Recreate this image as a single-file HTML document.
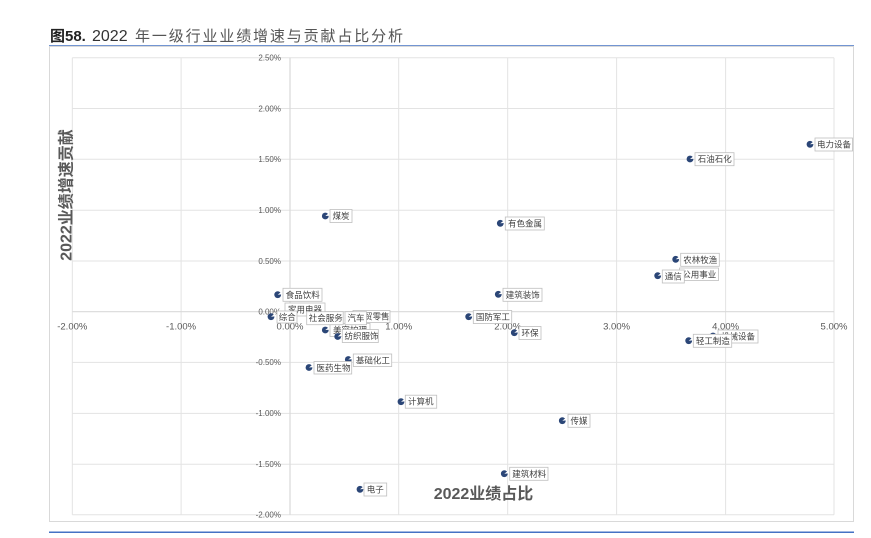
<!DOCTYPE html>
<html><head><meta charset="utf-8">
<style>
html,body{margin:0;padding:0;background:#fff;}
svg{display:block;}
text{font-family:"Liberation Sans","Noto Sans CJK SC",sans-serif;}
</style></head>
<body>
<svg width="871" height="538" viewBox="0 0 871 538" xmlns="http://www.w3.org/2000/svg">
<rect width="871" height="538" fill="#fff"/>
<!-- title -->
<text x="50" y="41" font-size="15" font-weight="bold" fill="#222">图58.</text>
<text x="92" y="41" font-size="16" fill="#333">2022</text>
<text x="135" y="41" font-size="15" fill="#555" textLength="268" lengthAdjust="spacing">年一级行业业绩增速与贡献占比分析</text>
<line x1="49" y1="46" x2="854" y2="46" stroke="#4472c4" stroke-width="1.5"/>
<line x1="49" y1="532.3" x2="854" y2="532.3" stroke="#4472c4" stroke-width="1.5"/>
<!-- frame -->
<rect x="49.5" y="46.5" width="804" height="475" fill="none" stroke="#d9d9d9" stroke-width="1"/>
<!-- gridlines -->
<g stroke="#e3e3e3" stroke-width="1">
<line x1="72.3" y1="57.7" x2="72.3" y2="514.7"/>
<line x1="181.1" y1="57.7" x2="181.1" y2="514.7"/>
<line x1="398.7" y1="57.7" x2="398.7" y2="514.7"/>
<line x1="507.7" y1="57.7" x2="507.7" y2="514.7"/>
<line x1="616.6" y1="57.7" x2="616.6" y2="514.7"/>
<line x1="725.6" y1="57.7" x2="725.6" y2="514.7"/>
<line x1="834" y1="57.7" x2="834" y2="514.7"/>
<line x1="72.3" y1="57.7" x2="834" y2="57.7"/>
<line x1="72.3" y1="108.5" x2="834" y2="108.5"/>
<line x1="72.3" y1="159.3" x2="834" y2="159.3"/>
<line x1="72.3" y1="210.2" x2="834" y2="210.2"/>
<line x1="72.3" y1="261" x2="834" y2="261"/>
<line x1="72.3" y1="362.4" x2="834" y2="362.4"/>
<line x1="72.3" y1="413.4" x2="834" y2="413.4"/>
<line x1="72.3" y1="464.3" x2="834" y2="464.3"/>
<line x1="72.3" y1="514.7" x2="834" y2="514.7"/>
</g>
<g stroke="#d9d9d9" stroke-width="1.2">
<line x1="290" y1="57.7" x2="290" y2="514.7"/>
<line x1="72.3" y1="311.7" x2="834" y2="311.7"/>
</g>
<!-- y tick labels -->
<g font-size="8" fill="#595959" text-anchor="end">
<text x="281" y="60.5">2.50%</text>
<text x="281" y="111.3">2.00%</text>
<text x="281" y="162.1">1.50%</text>
<text x="281" y="213">1.00%</text>
<text x="281" y="263.8">0.50%</text>
<text x="281" y="314.5">0.00%</text>
<text x="281" y="365.2">-0.50%</text>
<text x="281" y="416.2">-1.00%</text>
<text x="281" y="467.1">-1.50%</text>
<text x="281" y="517.5">-2.00%</text>
</g>
<!-- x tick labels -->
<g font-size="9.5" fill="#595959" text-anchor="middle">
<text x="72.3" y="329.5">-2.00%</text>
<text x="181.1" y="329.5">-1.00%</text>
<text x="290" y="329.5">0.00%</text>
<text x="398.7" y="329.5">1.00%</text>
<text x="507.7" y="329.5">2.00%</text>
<text x="616.6" y="329.5">3.00%</text>
<text x="725.6" y="329.5">4.00%</text>
<text x="834" y="329.5">5.00%</text>
</g>
<!-- axis titles -->
<text x="483.5" y="499" font-size="16" font-weight="bold" fill="#595959" text-anchor="middle">2022业绩占比</text>
<text transform="translate(71.5,195) rotate(-90)" font-size="16" font-weight="bold" fill="#595959" text-anchor="middle">2022业绩增速贡献</text>

<defs>
<g id="m">
<circle cx="0" cy="0" r="3.4" fill="#2b4677"/>
<polygon points="0,0 4,-3.2 4,-0.3" fill="#fff"/>
</g>
</defs>

<g font-size="8.5" fill="#404040">
<!-- 家用电器 -->
<use href="#m" x="286" y="317"/>
<rect x="285" y="303" width="40" height="13" fill="#fff" stroke="#bfbfbf" stroke-width="0.8"/>
<text x="288" y="312.5">家用电器</text>
<!-- 商贸零售 -->
<rect x="353" y="310.5" width="37" height="12" fill="#fff" stroke="#bfbfbf" stroke-width="0.8"/>
<text x="355.5" y="319.5">商贸零售</text>
<!-- 美容护理 -->
<use href="#m" x="325.3" y="330"/>
<rect x="330" y="323.5" width="40" height="13" fill="#fff" stroke="#bfbfbf" stroke-width="0.8"/>
<text x="333" y="333">美容护理</text>
<!-- 纺织服饰 -->
<use href="#m" x="337.7" y="336.5"/>
<rect x="342.3" y="329.5" width="36" height="13" fill="#fff" stroke="#bfbfbf" stroke-width="0.8"/>
<text x="344.5" y="339">纺织服饰</text>
<!-- 社会服务 -->
<rect x="306.7" y="311.7" width="36.5" height="13" fill="#fff" stroke="#bfbfbf" stroke-width="0.8"/>
<text x="308.8" y="321.2">社会服务</text>
<!-- 汽车 -->
<rect x="345" y="311.7" width="21.5" height="13" fill="#fff" stroke="#bfbfbf" stroke-width="0.8"/>
<text x="347.5" y="321.2">汽车</text>
<!-- 综合 -->
<use href="#m" x="271" y="316.7"/>
<rect x="277" y="311" width="20" height="12" fill="#fff" stroke="#bfbfbf" stroke-width="0.8"/>
<text x="278.8" y="320.2">综合</text>
<!-- 食品饮料 -->
<use href="#m" x="277.7" y="294.7"/>
<rect x="283" y="288.3" width="39" height="13" fill="#fff" stroke="#bfbfbf" stroke-width="0.8"/>
<text x="285.7" y="297.8">食品饮料</text>
<!-- 煤炭 -->
<use href="#m" x="325.3" y="216"/>
<rect x="330" y="209.5" width="22" height="13" fill="#fff" stroke="#bfbfbf" stroke-width="0.8"/>
<text x="332.5" y="219">煤炭</text>
<!-- 有色金属 -->
<use href="#m" x="500.3" y="223.3"/>
<rect x="505.3" y="217" width="39" height="13" fill="#fff" stroke="#bfbfbf" stroke-width="0.8"/>
<text x="508" y="226.5">有色金属</text>
<!-- 建筑装饰 -->
<use href="#m" x="498.3" y="294.3"/>
<rect x="503" y="288.3" width="39" height="13" fill="#fff" stroke="#bfbfbf" stroke-width="0.8"/>
<text x="505.7" y="297.8">建筑装饰</text>
<!-- 国防军工 -->
<use href="#m" x="468.7" y="316.7"/>
<rect x="473.3" y="310.5" width="38.4" height="13" fill="#fff" stroke="#bfbfbf" stroke-width="0.8"/>
<text x="475.9" y="320">国防军工</text>
<!-- 环保 -->
<use href="#m" x="514.3" y="332.7"/>
<rect x="519" y="326.5" width="22" height="13" fill="#fff" stroke="#bfbfbf" stroke-width="0.8"/>
<text x="521.5" y="336">环保</text>
<!-- 石油石化 -->
<use href="#m" x="690" y="159"/>
<rect x="695" y="152.7" width="39" height="13" fill="#fff" stroke="#bfbfbf" stroke-width="0.8"/>
<text x="697.7" y="162.2">石油石化</text>
<!-- 电力设备 -->
<use href="#m" x="810" y="144.3"/>
<rect x="815" y="138" width="37.5" height="13" fill="#fff" stroke="#bfbfbf" stroke-width="0.8"/>
<text x="817" y="147.5">电力设备</text>
<!-- 农林牧渔 -->
<use href="#m" x="675.7" y="259.3"/>
<rect x="680.7" y="253.3" width="38.6" height="13" fill="#fff" stroke="#bfbfbf" stroke-width="0.8"/>
<text x="683.3" y="262.8">农林牧渔</text>
<!-- 公用事业 -->
<use href="#m" x="675" y="274"/>
<rect x="679.5" y="268" width="39" height="12.5" fill="#fff" stroke="#bfbfbf" stroke-width="0.8"/>
<text x="682.2" y="277.3">公用事业</text>
<!-- 通信 -->
<use href="#m" x="657.7" y="275.7"/>
<rect x="662.3" y="270" width="22" height="13" fill="#fff" stroke="#bfbfbf" stroke-width="0.8"/>
<text x="664.8" y="279.5">通信</text>
<!-- 机械设备 -->
<use href="#m" x="713" y="336"/>
<rect x="718" y="330" width="40" height="13" fill="#fff" stroke="#bfbfbf" stroke-width="0.8"/>
<text x="721" y="339.5">机械设备</text>
<!-- 轻工制造 -->
<use href="#m" x="688.7" y="340.7"/>
<rect x="693.3" y="334.3" width="38.4" height="13" fill="#fff" stroke="#bfbfbf" stroke-width="0.8"/>
<text x="695.9" y="343.8">轻工制造</text>
<!-- 基础化工 -->
<use href="#m" x="348.3" y="359.5"/>
<rect x="353.3" y="354" width="38.4" height="12.5" fill="#fff" stroke="#bfbfbf" stroke-width="0.8"/>
<text x="355.9" y="363.3">基础化工</text>
<!-- 医药生物 -->
<use href="#m" x="309" y="367.5"/>
<rect x="314" y="361.5" width="37.7" height="12.5" fill="#fff" stroke="#bfbfbf" stroke-width="0.8"/>
<text x="316.5" y="370.8">医药生物</text>
<!-- 计算机 -->
<use href="#m" x="401" y="401.7"/>
<rect x="405.3" y="395.2" width="31.4" height="13" fill="#fff" stroke="#bfbfbf" stroke-width="0.8"/>
<text x="408" y="404.7">计算机</text>
<!-- 传媒 -->
<use href="#m" x="562.3" y="420.7"/>
<rect x="568" y="414.3" width="22" height="13" fill="#fff" stroke="#bfbfbf" stroke-width="0.8"/>
<text x="570.5" y="423.8">传媒</text>
<!-- 建筑材料 -->
<use href="#m" x="504.3" y="473.7"/>
<rect x="509.7" y="467.3" width="38.3" height="13" fill="#fff" stroke="#bfbfbf" stroke-width="0.8"/>
<text x="512.3" y="476.8">建筑材料</text>
<!-- 电子 -->
<use href="#m" x="360" y="489.3"/>
<rect x="364" y="483" width="22.7" height="13" fill="#fff" stroke="#bfbfbf" stroke-width="0.8"/>
<text x="366.8" y="492.5">电子</text>
</g>
</svg>
</body></html>
